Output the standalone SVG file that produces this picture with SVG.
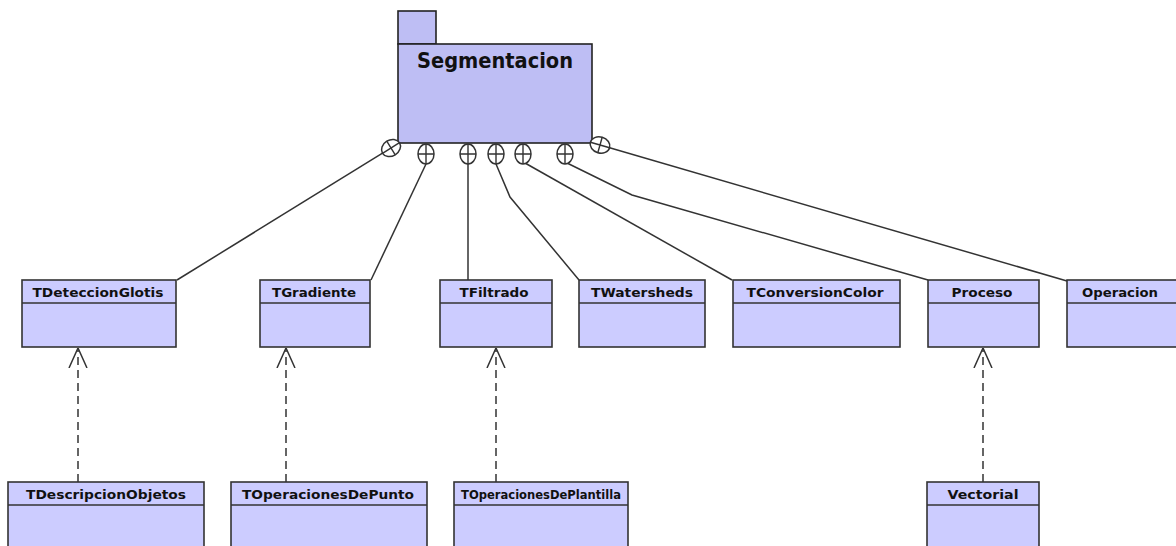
<svg xmlns="http://www.w3.org/2000/svg" width="1176" height="546" viewBox="0 0 1176 546">
<defs>
<style>
.pkg{fill:#bebef4;stroke:#222;stroke-width:1.6}
.cls{fill:#ccccff;stroke:#333;stroke-width:1.6}
.t{font-family:"DejaVu Sans","Liberation Sans",sans-serif;font-weight:bold;font-size:13px;fill:#111;text-anchor:middle}
.title{font-family:"DejaVu Sans","Liberation Sans",sans-serif;font-weight:bold;font-size:21px;fill:#111;text-anchor:middle}
.ln{fill:none;stroke:#333;stroke-width:1.5}
.dash{fill:none;stroke:#333;stroke-width:1.5;stroke-dasharray:8 5}
.sym{fill:#fff;stroke:#333;stroke-width:1.5}
</style>
<marker id="open" viewBox="0 0 20 20" refX="20" refY="10" markerWidth="20" markerHeight="20" markerUnits="userSpaceOnUse" orient="auto">
<path d="M0,1 L20,10 L0,19" fill="none" stroke="#333" stroke-width="1.5"/>
</marker>
<g id="nest">
<ellipse cx="0" cy="0" rx="8" ry="10" class="sym"/>
<path d="M-8,0 H8 M0,-10 V10" stroke="#333" stroke-width="1.4"/>
</g>
</defs>
<rect width="1176" height="546" fill="#fff"/>

<g id="Segmentacion">
<rect x="398" y="11" width="38" height="33" class="pkg"/>
<rect x="398" y="44" width="194" height="99" class="pkg"/>
<text x="495" y="68" class="title" textLength="156" lengthAdjust="spacingAndGlyphs">Segmentacion</text>
</g>

<g id="connectors">
<path class="ln" d="M382.5,153.2 L177,280"/>
<path class="ln" d="M426,164 L371,280"/>
<path class="ln" d="M468,164 L468,280"/>
<path class="ln" d="M496,164 L510,197 L579,280"/>
<path class="ln" d="M525,163 L732,280"/>
<path class="ln" d="M567,163 L632,195 L928,280"/>
<path class="ln" d="M609.6,147.8 L1067,281"/>
<use href="#nest" transform="translate(391,148) rotate(58)"/>
<use href="#nest" x="426" y="154"/>
<use href="#nest" x="468" y="154"/>
<use href="#nest" x="496" y="154"/>
<use href="#nest" x="523" y="154"/>
<use href="#nest" x="565" y="154"/>
<use href="#nest" transform="translate(600,145) rotate(-74)"/>
<path class="dash" d="M78,482 V348" marker-end="url(#open)"/>
<path class="dash" d="M286,482 V348" marker-end="url(#open)"/>
<path class="dash" d="M496,482 V348" marker-end="url(#open)"/>
<path class="dash" d="M983,482 V348" marker-end="url(#open)"/>
</g>

<g id="TDeteccionGlotis">
<rect x="22" y="280" width="154" height="67" class="cls"/>
<line x1="22" y1="303" x2="176" y2="303" class="ln"/>
<text x="98" y="297" class="t" textLength="131" lengthAdjust="spacingAndGlyphs">TDeteccionGlotis</text>
</g>
<g id="TGradiente">
<rect x="260" y="280" width="110" height="67" class="cls"/>
<line x1="260" y1="303" x2="370" y2="303" class="ln"/>
<text x="314" y="297" class="t" textLength="84" lengthAdjust="spacingAndGlyphs">TGradiente</text>
</g>
<g id="TFiltrado">
<rect x="440" y="280" width="112" height="67" class="cls"/>
<line x1="440" y1="303" x2="552" y2="303" class="ln"/>
<text x="494" y="297" class="t" textLength="69" lengthAdjust="spacingAndGlyphs">TFiltrado</text>
</g>
<g id="TWatersheds">
<rect x="579" y="280" width="126" height="67" class="cls"/>
<line x1="579" y1="303" x2="705" y2="303" class="ln"/>
<text x="642" y="297" class="t" textLength="102" lengthAdjust="spacingAndGlyphs">TWatersheds</text>
</g>
<g id="TConversionColor">
<rect x="733" y="280" width="167" height="67" class="cls"/>
<line x1="733" y1="303" x2="900" y2="303" class="ln"/>
<text x="815" y="297" class="t" textLength="137" lengthAdjust="spacingAndGlyphs">TConversionColor</text>
</g>
<g id="Proceso">
<rect x="928" y="280" width="111" height="67" class="cls"/>
<line x1="928" y1="303" x2="1039" y2="303" class="ln"/>
<text x="982" y="297" class="t" textLength="61" lengthAdjust="spacingAndGlyphs">Proceso</text>
</g>
<g id="Operacion">
<rect x="1067" y="280" width="120" height="67" class="cls"/>
<line x1="1067" y1="303" x2="1187" y2="303" class="ln"/>
<text x="1120" y="297" class="t" textLength="76" lengthAdjust="spacingAndGlyphs">Operacion</text>
</g>

<g id="TDescripcionObjetos">
<rect x="8" y="482" width="196" height="80" class="cls"/>
<line x1="8" y1="505" x2="204" y2="505" class="ln"/>
<text x="106" y="499" class="t" textLength="160" lengthAdjust="spacingAndGlyphs">TDescripcionObjetos</text>
</g>
<g id="TOperacionesDePunto">
<rect x="231" y="482" width="196" height="80" class="cls"/>
<line x1="231" y1="505" x2="427" y2="505" class="ln"/>
<text x="328" y="499" class="t" textLength="172" lengthAdjust="spacingAndGlyphs">TOperacionesDePunto</text>
</g>
<g id="TOperacionesDePlantilla">
<rect x="454" y="482" width="174" height="80" class="cls"/>
<line x1="454" y1="505" x2="628" y2="505" class="ln"/>
<text x="541" y="499" class="t" textLength="160" lengthAdjust="spacingAndGlyphs">TOperacionesDePlantilla</text>
</g>
<g id="Vectorial">
<rect x="927" y="482" width="112" height="80" class="cls"/>
<line x1="927" y1="505" x2="1039" y2="505" class="ln"/>
<text x="983" y="499" class="t" textLength="71" lengthAdjust="spacingAndGlyphs">Vectorial</text>
</g>
</svg>
